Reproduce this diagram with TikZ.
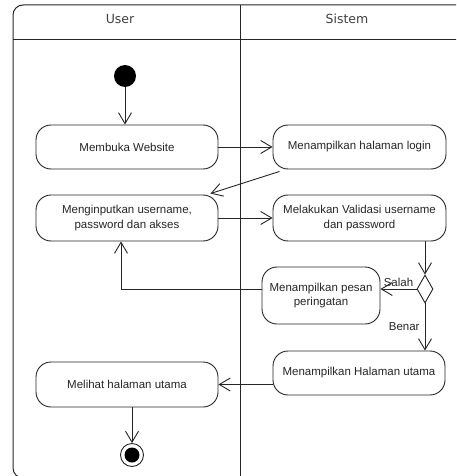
\documentclass[tikz,border=0pt]{standalone}
\usepackage{fontspec}
\setmainfont{Liberation Sans}
\newfontfamily\headfont{DejaVu Sans}
\usetikzlibrary{arrows.meta,shapes.geometric}
\tikzset{
  act/.style={draw=black!85, line width=0.9pt, rounded corners=15pt, align=center,
    inner sep=0pt, font=\fontsize{11.5}{14.5}\selectfont, text=black!85},
  flow/.style={draw=black!85, line width=0.9pt, -{Straight Barb[length=11pt,width=13pt,line width=0.9pt]}},
  lane/.style={draw=black!85, line width=1pt},
  head/.style={font=\headfont\fontsize{12.5}{14}\selectfont, text=black!75},
  lbl/.style={font=\fontsize{11.5}{13}\selectfont, text=black!85, inner sep=1pt}
}
\begin{document}
\begin{tikzpicture}[x=1pt,y=-1pt]
\useasboundingbox (0,0) rectangle (456,476);
\clip (0,0) rectangle (456,476);
\fill[white] (0,0) rectangle (456,476);
% swimlane frame
\draw[lane, rounded corners=10pt] (13,5) rectangle (480,478);
\draw[lane] (13,40) -- (470,40);
\draw[lane] (240,5) -- (240,480);
\node[head] (huser) at (120,19) {User};
\node[head] (hsis) at (347,19) {Sistem};
% nodes
\node[circle, fill=black, minimum size=22pt, inner sep=0pt] (start) at (125,76) {};
\node[act, minimum width=182pt, minimum height=44pt] (a1) at (127,147) {Membuka Website};
\node[act, minimum width=173pt, minimum height=44pt] (s1) at (359.5,147) {Menampilkan halaman login};
\node[act, minimum width=182pt, minimum height=46pt] (a2) at (127,218) {Menginputkan username,\\password dan akses};
\node[act, minimum width=173pt, minimum height=46pt] (s2) at (359.5,218) {Melakukan Validasi username\\dan password};
\node[diamond, draw=black!85, line width=0.9pt, minimum width=16pt, minimum height=28pt, inner sep=0pt, aspect=0.57] (dec) at (425,289) {};
\node[act, minimum width=118pt, minimum height=57pt] (s3) at (321,295.5) {Menampilkan pesan\\peringatan};
\node[act, minimum width=172pt, minimum height=44pt] (s4) at (359,373) {Menampilkan Halaman utama};
\node[act, minimum width=182pt, minimum height=45pt] (a3) at (127,384.5) {Melihat halaman utama};
\node[circle, draw=black!85, line width=0.9pt, minimum size=23pt, inner sep=0pt] (end) at (132,455) {};
\node[circle, fill=black, minimum size=15pt, inner sep=0pt] (endin) at (end.center) {};
% connectors
\draw[flow] (start) -- (start |- a1.north);
\draw[flow] (a1.east) -- (s1.west);
\draw[flow] ([xshift=7pt,yshift=-2pt]s1.south west) -- ([xshift=-8pt,yshift=1pt]a2.north east);
\draw[flow] (a2.east) -- (a2.east -| s2.west);
\draw[flow] (dec.north |- s2.south) -- (dec.north);
\draw[flow] (dec.west) -- (dec.west -| s3.east) node[lbl, pos=0.5, above=1pt] (salah) {Salah};
\draw[flow] (s3.west |- dec.west) -| ([xshift=-6pt]a2.south);
\draw[flow] (dec.south) -- (dec.south |- s4.north) node[lbl, pos=0.5, left=4pt] (benar) {Benar};
\draw[flow] (s4.west |- a3.east) -- (a3.east);
\draw[flow] (end |- a3.south) -- (end.north);
\end{tikzpicture}
\end{document}
